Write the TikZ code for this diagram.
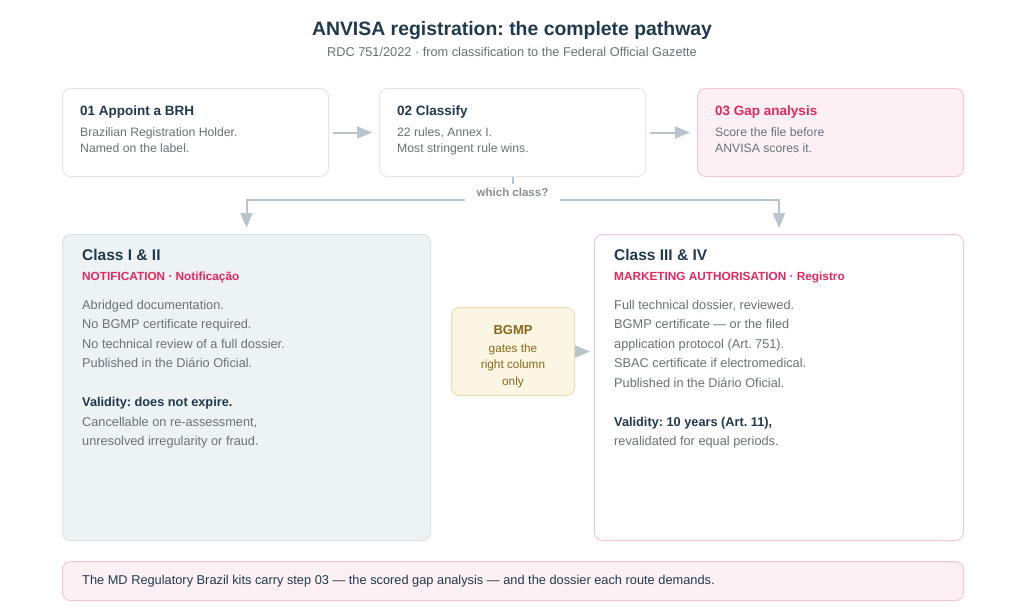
\documentclass[tikz,border=0pt]{standalone}
\usepackage{fontspec}
\setmainfont{Liberation Sans}
\setsansfont{Liberation Sans}
\usetikzlibrary{arrows.meta,positioning,calc}
\definecolor{anvink}{HTML}{1F3A4D}
\definecolor{anvmute}{HTML}{6B7178}
\definecolor{anvrose}{HTML}{E8285C}
\definecolor{anvroseln}{HTML}{F8C6D3}
\definecolor{anvrosebg}{HTML}{FDF0F4}
\definecolor{anvslate}{HTML}{EDF2F5}
\definecolor{anvslateln}{HTML}{DCE3E8}
\definecolor{anvrule}{HTML}{E3E7EA}
\definecolor{anvwire}{HTML}{B9C5CC}
\definecolor{anvsand}{HTML}{FBF5E4}
\definecolor{anvsandln}{HTML}{EFDDB0}
\definecolor{anvgold}{HTML}{8B6A17}
\newcommand{\fsz}[2]{\fontsize{#1}{#2}\selectfont}
\newcommand{\anvkey}[1]{{\bfseries\color{anvink}#1}}
\frenchspacing

\begin{document}
\begin{tikzpicture}[x=1pt, y=-1pt, >={Triangle[length=15pt,width=12pt]},
  box/.style={draw=anvrule, line width=1pt, rounded corners=8pt, anchor=north west, inner sep=0pt},
  stepbox/.style={box, minimum width=266pt, minimum height=88pt},
  bigbox/.style={box, minimum width=368pt, minimum height=306pt},
  ttl/.style={anchor=base west, inner sep=0pt, text=anvink, font=\bfseries\fsz{13.5}{16}},
  body/.style={anchor=north west, inner sep=0pt, align=left, text=anvmute, font=\fsz{12.2}{16}},
  bigttl/.style={anchor=base west, inner sep=0pt, text=anvink, font=\bfseries\fsz{15.5}{18}},
  tag/.style={anchor=base west, inner sep=0pt, text=anvrose, font=\bfseries\fsz{11.8}{14}},
  bigbody/.style={anchor=north west, inner sep=0pt, align=left, text=anvmute, font=\fsz{12.75}{19.5}},
  wire/.style={draw=anvwire, line width=2pt}]
  \useasboundingbox (0,0) rectangle (1024,614);
  \fill[white] (0,0) rectangle (1024,614);
  % heading
  \node[anchor=base, inner sep=0pt, text=anvink, font=\bfseries\fsz{19.4}{22}] (hd) at (512,35) {ANVISA registration: the complete pathway};
  \node[anchor=base, inner sep=0pt, text=anvmute, font=\fsz{12.75}{15}] (sub) at (512,56) {RDC 751/2022 · from classification to the Federal Official Gazette};
  % the three steps
  \node[stepbox] (s1) at (62,88) {};
  \node[stepbox] (s2) at (379,88) {};
  \node[stepbox, draw=anvroseln, fill=anvrosebg] (s3) at (697,88) {};
  \node[ttl] (s1t) at ([shift={(18,27)}]s1.north west) {01 Appoint a BRH};
  \node[body] (s1b) at ([shift={(18,39)}]s1.north west) {Brazilian Registration Holder.\\Named on the label.};
  \node[ttl] (s2t) at ([shift={(18,27)}]s2.north west) {02 Classify};
  \node[body] (s2b) at ([shift={(18,39)}]s2.north west) {22 rules, Annex I.\\Most stringent rule wins.};
  \node[ttl, text=anvrose] (s3t) at ([shift={(18,27)}]s3.north west) {03 Gap analysis};
  \node[body] (s3b) at ([shift={(18,39)}]s3.north west) {Score the file before\\ANVISA scores it.};
  \draw[wire, ->, shorten <=4pt, shorten >=7pt] (s1) -- (s2);
  \draw[wire, ->, shorten <=4pt, shorten >=7pt] (s2) -- (s3);
  % the two routes
  \node[bigbox, fill=anvslate, draw=anvslateln] (c12) at (62,234) {};
  \node[bigbox, draw=anvroseln, minimum width=369pt] (c34) at (594,234) {};
  \node[bigttl] (c12t) at ([shift={(20,26.5)}]c12.north west) {Class I \& II};
  \node[tag] (c12g) at ([shift={(20,46)}]c12.north west) {NOTIFICATION · Notificação};
  \node[bigbody] (c12b) at ([shift={(20,65.7)}]c12.north west) {Abridged documentation.\\No BGMP certificate required.\\No technical review of a full dossier.\\Published in the Diário Oficial.\\[19.5pt]\anvkey{Validity: does not expire.}\\Cancellable on re-assessment,\\unresolved irregularity or fraud.};
  \node[bigttl] (c34t) at ([shift={(20,26.5)}]c34.north west) {Class III \& IV};
  \node[tag] (c34g) at ([shift={(20,46)}]c34.north west) {MARKETING AUTHORISATION · Registro};
  \node[bigbody] (c34b) at ([shift={(20,65.7)}]c34.north west) {Full technical dossier, reviewed.\\BGMP certificate — or the filed\\application protocol (Art. 751).\\SBAC certificate if electromedical.\\Published in the Diário Oficial.\\[19.5pt]\anvkey{Validity: 10 years (Art. 11),}\\revalidated for equal periods.};
  \coordinate (fork) at (s2.south |- 0,200);
  \draw[wire] (s2.south) -- (fork);
  \draw[wire, ->, shorten >=6pt] (fork) -| (c12.north);
  \draw[wire, ->, shorten >=6pt] (fork) -| (c34.north);
  \node[anchor=base, fill=white, inner xsep=12pt, inner ysep=4pt, text depth=2.5pt, text=anvmute!80, font=\bfseries\fsz{11.5}{14}] (ask) at ([yshift=4pt]fork) {which class?};
  % BGMP gate
  \node[box, fill=anvsand, draw=anvsandln, minimum width=123pt, minimum height=88pt] (gate) at (451,307) {};
  \node[anchor=base, inner sep=0pt, text=anvgold, font=\bfseries\fsz{13}{16}] (gatet) at ([shift={(0,27)}]gate.north) {BGMP};
  \node[anchor=north, inner sep=0pt, align=center, text=anvgold, font=\fsz{11.8}{16.5}] (gateb) at ([shift={(0,36.4)}]gate.north) {gates the\\right column\\only};
  \draw[wire, ->, shorten >=4pt] (gate.east) -- (gate.east -| c34.west);
  % kits note
  \node[box, draw=anvroseln, fill=anvrosebg, minimum width=901pt, minimum height=39pt] (kit) at (62,561) {};
  \node[anchor=base west, inner sep=0pt, text=anvink, font=\fsz{12.8}{14}] (kitt) at ([shift={(20,23.5)}]kit.north west) {The MD Regulatory Brazil kits carry step 03 — the scored gap analysis — and the dossier each route demands.};
\end{tikzpicture}
\end{document}
